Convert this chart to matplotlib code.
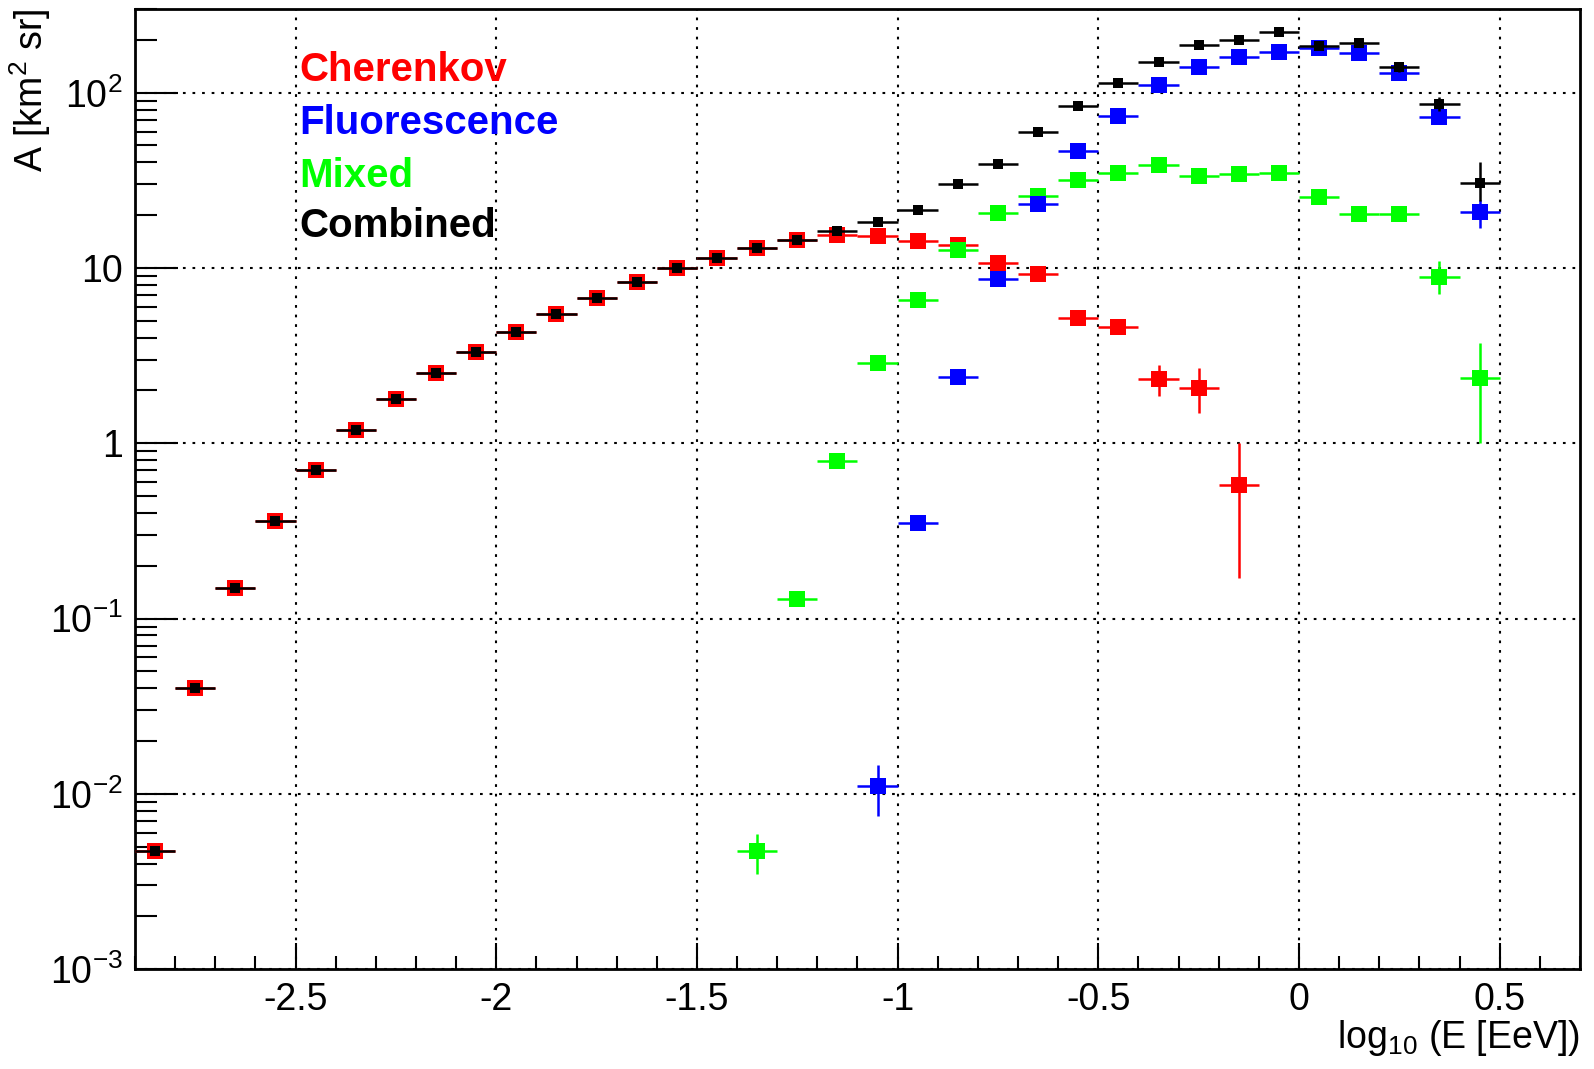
import numpy as np
import matplotlib
matplotlib.use('Agg')
import matplotlib.pyplot as plt
from matplotlib.ticker import FixedLocator, FixedFormatter, MultipleLocator, LogLocator, NullFormatter, FormatStrFormatter

plt.rcParams['font.family'] = ['Liberation Sans', 'DejaVu Sans']
plt.rcParams['axes.unicode_minus'] = False
plt.rcParams['mathtext.fontset'] = 'custom'
plt.rcParams['mathtext.rm'] = 'Liberation Sans'

#==========================================================
# data: aperture per log10(E) bin (bin width 0.1)
#==========================================================
x_all = [-2.85, -2.75, -2.65, -2.55, -2.45, -2.35, -2.25, -2.15, -2.05, -1.95,
         -1.85, -1.75, -1.65, -1.55, -1.45, -1.35, -1.25, -1.15, -1.05, -0.95,
         -0.85, -0.75, -0.65, -0.55, -0.45, -0.35, -0.25, -0.15, -0.05, 0.05,
         0.15, 0.25, 0.35, 0.45]

# Cherenkov (red), -2.85 .. -0.15
x_cher = x_all[:28]
a_cher = [0.0047, 0.040, 0.150, 0.362, 0.707, 1.19, 1.80, 2.51, 3.33, 4.29,
          5.45, 6.75, 8.36, 9.95, 11.4, 13.0, 14.5, 15.5, 15.2, 14.2,
          13.6, 10.7, 9.3, 5.2, 4.6, 2.33, 2.07, 0.58]
elo_cher = [0]*24 + [0.4, 0.46, 0.58, 0.41]
ehi_cher = [0]*24 + [0.4, 0.47, 0.62, 0.42]

# Fluorescence (blue), -1.05 .. 0.45
x_fluo = x_all[18:]
a_fluo = [0.0111, 0.35, 2.38, 8.6, 23.3, 46.4, 74, 110, 140, 160,
          171, 180, 168, 129, 73, 20.9]
elo_fluo = [0.0036, 0, 0, 0, 0, 0, 0, 0, 0, 0, 0, 0, 0, 0, 0, 4.0]
ehi_fluo = [0.0034, 0, 0, 0, 0, 0, 0, 0, 0, 0, 0, 0, 0, 0, 0, 3.6]

# Mixed (green), -1.35 .. 0.45
x_mix = x_all[15:]
a_mix = [0.0047, 0.129, 0.787, 2.87, 6.6, 12.7, 20.5, 25.8, 31.6, 34.6,
         38.6, 33.7, 34.2, 34.6, 25.5, 20.3, 20.3, 8.9, 2.35]
elo_mix = [0.0012] + [0]*16 + [1.8, 1.35]
ehi_mix = [0.0012] + [0]*16 + [2.0, 1.4]

# Combined (black)
a_comb = [0.0047, 0.040, 0.150, 0.362, 0.707, 1.19, 1.80, 2.51, 3.33, 4.29,
          5.45, 6.75, 8.36, 9.95, 11.4, 13.0, 14.5, 16.2, 18.3, 21.4,
          30.3, 39.0, 60.0, 84.0, 113, 149, 187, 200, 222, 185,
          192, 140, 86, 30.5]
elo_comb = [0]*31 + [8, 7, 6.5]
ehi_comb = [0]*31 + [8, 9, 9.5]

y_ticks = [1e-3, 1e-2, 1e-1, 1, 10, 100]
y_labels = ['10$^{-3}$', '10$^{-2}$', '10$^{-1}$', '1', '10', '10$^{2}$']

#==========================================================
# plot
#==========================================================
fig = plt.figure(figsize=(15.94, 10.69), dpi=100)
ax = fig.add_axes([0.0847, 0.0935, 0.9065, 0.898])

series = [
    (x_cher, a_cher, elo_cher, ehi_cher, '#ff0000', 11.5),
    (x_mix, a_mix, elo_mix, ehi_mix, '#00ff00', 11.5),
    (x_fluo, a_fluo, elo_fluo, ehi_fluo, '#0000ff', 11.5),
    (x_all, a_comb, elo_comb, ehi_comb, 'black', 7.5),
]
for i, (xs, ys, lo, hi, c, ms) in enumerate(series):
    ax.errorbar(xs, ys, xerr=0.05, yerr=[lo, hi], fmt='s', color=c,
                ms=ms, mew=0, elinewidth=1.8, capsize=0, zorder=3 + i)

ax.set_yscale('log')
ax.set_xlim(-2.9, 0.7)
ax.set_ylim(1e-3, 300)

ax.xaxis.set_major_locator(MultipleLocator(0.5))
ax.xaxis.set_major_formatter(FormatStrFormatter('%g'))
ax.xaxis.set_minor_locator(MultipleLocator(0.1))
ax.yaxis.set_major_locator(FixedLocator(y_ticks))
ax.yaxis.set_major_formatter(FixedFormatter(y_labels))
ax.yaxis.set_minor_locator(LogLocator(base=10, subs=np.arange(2, 10)))
ax.yaxis.set_minor_formatter(NullFormatter())

ax.tick_params(axis='both', which='both', direction='in', width=1.5,
               top=False, right=False, labelsize=27)
ax.tick_params(axis='x', which='major', length=19, pad=9)
ax.tick_params(axis='x', which='minor', length=9.5)
ax.tick_params(axis='y', which='major', length=31, pad=9)
ax.tick_params(axis='y', which='minor', length=16)

for s in ax.spines.values():
    s.set_linewidth(2.0)

ax.grid(True, which='major', color='black', linestyle=(0, (1.3, 3.3)), linewidth=1.5)
ax.set_axisbelow(True)

ax.set_xlabel('log$_{10}$ (E [EeV])', fontsize=27, loc='right', labelpad=0)
ax.set_ylabel('A [km$^{2}$ sr]', fontsize=27, loc='top')
ax.yaxis.set_label_coords(-0.057, 1.0)

legend_txt = ['Cherenkov', 'Fluorescence', 'Mixed', 'Combined']
legend_col = ['#ff0000', '#0000ff', '#00ff00', 'black']
legend_y = [0.925, 0.870, 0.815, 0.763]
for t, c, yy in zip(legend_txt, legend_col, legend_y):
    ax.text(0.1135, yy, t, color=c, fontsize=29, fontweight='bold',
            transform=ax.transAxes, ha='left', va='baseline', zorder=10)

plt.savefig('out.png', dpi=100)
plt.close()
